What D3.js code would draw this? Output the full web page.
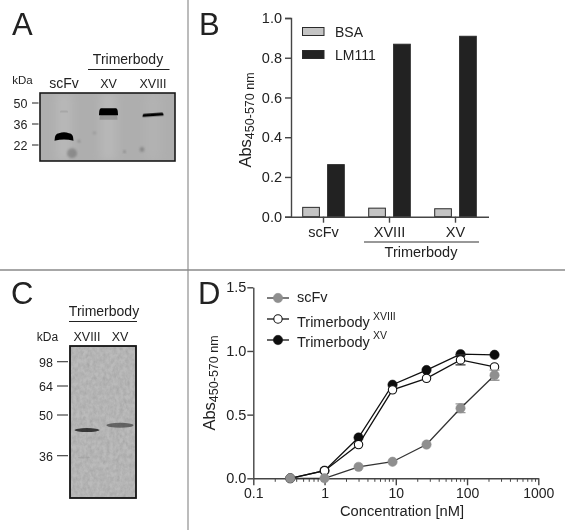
<!DOCTYPE html>
<html><head><meta charset="utf-8">
<script src="https://cdn.jsdelivr.net/npm/d3@7"></script>
<style>
html,body{margin:0;padding:0;background:#fff}
svg{display:block}
text{font-family:"Liberation Sans",Arial,sans-serif;fill:#222}
</style></head><body><svg id="c" width="565" height="530"></svg>
<script>
// Panel B
const barGroups = ["scFv","XVIII","XV"];
const barSeries = ["BSA","LM111"];
const bsaValues = [0.047,0.043,0.040];
const lm111Values = [0.262,0.868,0.908];
const barColors = ["#c4c4c4","#222222"];
const barYTicks = [0,0.2,0.4,0.6,0.8,1.0];
// Panel D
const concentrations = [0.33,1,3,9,27,81,243];
const scFvCurve = [0,0,0.09,0.13,0.265,0.55,0.81];
const scFvError = [0,0,0,0,0,0.035,0.04];
const xviiiCurve = [0,0.06,0.265,0.695,0.785,0.93,0.875];
const xviiiError = [0,0,0,0,0,0.04,0];
const xvCurve = [0,0.06,0.32,0.735,0.85,0.975,0.97];
const xvError = [0,0,0,0,0,0,0];
const lineYTicks = [0,0.5,1.0,1.5];
const lineXTicks = [0.1,1,10,100,1000];
// Panel A blot
const blotALanes = ["scFv","XV","XVIII"];
const blotAMarkers = [50,36,22];
const blotABands = [
  {lane:"XV",kda:40.5,w:18,h:5,arc:0,o:0.16},
  {lane:"scFv",kda:27.2,w:19,h:7,arc:2.5,o:1},
  {lane:"XV",kda:44.2,w:19,h:7,arc:0,o:1},
  {lane:"XVIII",kda:42.2,w:21,h:3,arc:0,o:1,tilt:-4},
  {lane:"scFv",kda:44.4,w:8,h:2,arc:0,o:0.08}
];
const blotASpots = [
  {lane:"scFv",dx:8,kda:16.5,r:5,o:0.3},
  {lane:"XVIII",dx:-11,kda:19,r:2.4,o:0.3},
  {lane:"XV",dx:16,kda:17.5,r:1.1,o:0.5},
  {lane:"scFv",dx:15,kda:24.5,r:1.3,o:0.3},
  {lane:"XV",dx:-14,kda:30,r:1.4,o:0.2}
];
// Panel C blot
const blotCLanes = ["XVIII","XV"];
const blotCMarkers = [98,64,50,36];
const blotCBands = [
  {lane:"XVIII",dx:0,kda:44.8,w:25,h:4,o:0.85},
  {lane:"XV",dx:0,kda:46.5,w:27,h:5,o:0.55},
  {lane:"XVIII",dx:-3,kda:35.4,w:12,h:2,o:0.08}
];

const root = d3.select("#c");
const defs = root.append("defs");
const blur = (id,s)=>defs.append("filter").attr("id",id).attr("x","-50%").attr("y","-50%").attr("width","200%").attr("height","200%")
  .append("feGaussianBlur").attr("stdDeviation",s);
blur("b1",1); blur("b06",0.7); blur("b5",5);
defs.append("filter").attr("id","soft").attr("filterUnits","userSpaceOnUse").attr("x",0).attr("y",0).attr("width",565).attr("height",530)
  .append("feGaussianBlur").attr("stdDeviation",0.35);
const nf = defs.append("filter").attr("id","noise").attr("x","0").attr("y","0").attr("width","100%").attr("height","100%");
nf.append("feTurbulence").attr("type","fractalNoise").attr("baseFrequency","0.3 0.22").attr("numOctaves",3).attr("seed",4);
nf.append("feColorMatrix").attr("type","matrix").attr("values","0 0 0 0 0.30  0 0 0 0 0.30  0 0 0 0 0.30  0.6 0.6 0 0 -0.42");
defs.append("clipPath").attr("id","clipA").append("rect").attr("x",40).attr("y",93).attr("width",135).attr("height",68);
defs.append("clipPath").attr("id","clipC").append("rect").attr("x",70).attr("y",346).attr("width",66).attr("height",152);

const svg = root.append("g").attr("filter","url(#soft)");
svg.append("rect").attr("width",565).attr("height",530).attr("fill","#fff");

const txt=(g,x,y,s,size,anchor="middle")=>g.append("text").attr("x",x).attr("y",y).attr("font-size",size).attr("text-anchor",anchor).text(s);

// dividers
svg.append("line").attr("x1",188).attr("x2",188).attr("y1",0).attr("y2",530).attr("stroke","#bcbcbc").attr("stroke-width",2);
svg.append("line").attr("x1",0).attr("x2",565).attr("y1",270).attr("y2",270).attr("stroke","#8a8a8a").attr("stroke-width",1.4);

// letters
[["A",12,35],["B",199,35],["C",11,304],["D",198,304]].forEach(d=>txt(svg,d[1],d[2],d[0],31,"start").attr("fill","#111"));

// ---------- Panel A
const gA = svg.append("g");
const xA = d3.scalePoint().domain(blotALanes).range([64,153]);
const yA = d3.scaleLinear().domain([50,22]).range([103,145]);
txt(gA,128,64,"Trimerbody",14);
gA.append("line").attr("x1",88).attr("x2",169.5).attr("y1",69.5).attr("y2",69.5).attr("stroke","#222").attr("stroke-width",1.2);
txt(gA,22.5,84,"kDa",11.5);
blotALanes.forEach(l=>txt(gA,xA(l),88,l,l==="scFv"?14:12.5));
const pA = gA.append("g").attr("clip-path","url(#clipA)");
pA.append("rect").attr("x",40).attr("y",93).attr("width",135).attr("height",68).attr("fill","#aeaeae");
pA.selectAll(".smear").data(blotALanes).join("rect").attr("x",d=>xA(d)-8).attr("y",93).attr("width",16).attr("height",68)
  .attr("fill","#cdcdcd").attr("opacity",d=>d==="XVIII"?0.15:0.32).attr("filter","url(#b5)");
pA.selectAll(".spot").data(blotASpots).join("circle").attr("cx",d=>xA(d.lane)+d.dx).attr("cy",d=>yA(d.kda)).attr("r",d=>d.r)
  .attr("fill","#333").attr("opacity",d=>d.o).attr("filter","url(#b1)");
pA.selectAll(".band").data(blotABands).join("path")
  .attr("d",d=>{const x=xA(d.lane),y=yA(d.kda),w=d.w/2,h=d.h/2,a=d.arc,r=Math.min(h,2);
    return `M${x-w},${y+h} Q${x-w},${y-h-a*0.2} ${x-w+r+a},${y-h-a*0.2} Q${x},${y-h-a} ${x+w-r-a},${y-h-a*0.2} Q${x+w},${y-h-a*0.2} ${x+w},${y+h} Q${x},${y+h-a} ${x-w},${y+h}Z`;})
  .attr("transform",d=>d.tilt?`rotate(${d.tilt} ${xA(d.lane)} ${yA(d.kda)})`:null)
  .attr("fill","#050505").attr("opacity",d=>d.o).attr("filter","url(#b06)");
gA.append("rect").attr("x",40).attr("y",93).attr("width",135).attr("height",68).attr("fill","none").attr("stroke","#1a1a1a").attr("stroke-width",1.6);
blotAMarkers.forEach(k=>{
  txt(gA,27.5,yA(k)+5,k,12.5,"end");
  gA.append("line").attr("x1",32).attr("x2",38.5).attr("y1",yA(k)).attr("y2",yA(k)).attr("stroke","#333").attr("stroke-width",1.1);
});

// ---------- Panel C
const gC = svg.append("g");
const xC = d3.scalePoint().domain(blotCLanes).range([87,120]);
const yC = d3.scaleLinear().domain(blotCMarkers).range([361.7,386,415,455.7]);
txt(gC,104,316,"Trimerbody",14);
gC.append("line").attr("x1",69).attr("x2",137).attr("y1",321.5).attr("y2",321.5).attr("stroke","#222").attr("stroke-width",1.2);
txt(gC,47.5,341,"kDa",12);
blotCLanes.forEach(l=>txt(gC,xC(l),341,l,12.5));
const pC = gC.append("g").attr("clip-path","url(#clipC)");
pC.append("rect").attr("x",70).attr("y",346).attr("width",66).attr("height",152).attr("fill","#bbbbbb");
pC.append("rect").attr("x",70).attr("y",346).attr("width",66).attr("height",152).attr("filter","url(#noise)");
pC.selectAll(".band").data(blotCBands).join("ellipse")
  .attr("cx",d=>xC(d.lane)+d.dx).attr("cy",d=>yC(d.kda)).attr("rx",d=>d.w/2).attr("ry",d=>d.h/2)
  .attr("fill","#222").attr("opacity",d=>d.o).attr("filter","url(#b06)");
gC.append("rect").attr("x",70).attr("y",346).attr("width",66).attr("height",152).attr("fill","none").attr("stroke","#151515").attr("stroke-width",1.8);
blotCMarkers.forEach(k=>{
  txt(gC,53,yC(k)+5,k,12.5,"end");
  gC.append("line").attr("x1",57).attr("x2",68).attr("y1",yC(k)).attr("y2",yC(k)).attr("stroke","#333").attr("stroke-width",1.1);
});

// helpers for axes
const styleAxis = (g,size)=>{
  g.selectAll("path,line").attr("stroke","#444").attr("stroke-width",1.4);
  g.selectAll("text").attr("font-size",size).attr("fill","#222");
};
const absLabel=(x,y,main,sub)=>{
  const t=svg.append("text").attr("transform",`translate(${x},${y}) rotate(-90)`).attr("text-anchor","middle");
  t.append("tspan").attr("font-size",main).text("Abs");
  t.append("tspan").attr("font-size",sub).attr("dy",3).text("450-570 nm");
};

// ---------- Panel B
const yB = d3.scaleLinear().domain([0,1]).range([216.7,18]);
const xB = d3.scaleBand().domain(barGroups).range([290.5,488.5]);
const xB2 = d3.scaleBand().domain(barSeries).range([xB.bandwidth()/2-20.8,xB.bandwidth()/2+20.8]).paddingInner(0.33);
const gB = svg.append("g");
[bsaValues,lm111Values].forEach((vals,si)=>{
  gB.selectAll(".s"+si).data(vals).join("rect")
    .attr("x",(d,i)=>xB(barGroups[i])+xB2(barSeries[si]))
    .attr("y",d=>yB(d)).attr("width",xB2.bandwidth()).attr("height",d=>yB(0)-yB(d))
    .attr("fill",barColors[si]).attr("stroke","#2a2a2a").attr("stroke-width",1);
});
const axLB = svg.append("g").attr("transform","translate(291,0)").call(d3.axisLeft(yB).tickValues(barYTicks).tickFormat(d3.format(".1f")).tickSizeOuter(0).tickSize(6).tickPadding(3));
styleAxis(axLB,14.5);
const axBB = svg.append("g").attr("transform","translate(0,216.7)").call(d3.axisBottom(xB).tickSize(6).tickSizeOuter(0).tickPadding(4));
styleAxis(axBB,14.5);
absLabel(250.5,120,16.5,12.5);
svg.append("line").attr("x1",364).attr("x2",479).attr("y1",242).attr("y2",242).attr("stroke","#333").attr("stroke-width",1.2);
txt(svg,421,257,"Trimerbody",14.5);
barSeries.forEach((s,i)=>{
  const yy=[27.5,50.5][i];
  svg.append("rect").attr("x",302.5).attr("y",yy).attr("width",21.5).attr("height",8).attr("fill",barColors[i]).attr("stroke","#2a2a2a").attr("stroke-width",1);
  txt(svg,335,yy+9,s,14,"start");
});

// ---------- Panel D
const xD = d3.scaleLog().domain([0.1,1000]).range([253.3,538.3]);
const yD = d3.scaleLinear().domain([0,1.5]).range([478.3,287.3]);
const minor=[];
lineXTicks.slice(0,-1).forEach(b=>d3.range(2,10).forEach(m=>minor.push(b*m)));
const axMinor = svg.append("g").attr("transform","translate(0,478.3)").call(d3.axisBottom(xD).tickValues(minor).tickSize(3.5).tickFormat(""));
axMinor.selectAll("line").attr("stroke","#444").attr("stroke-width",1);
axMinor.select("path").remove();
const axXD = svg.append("g").attr("transform","translate(0,478.3)").call(d3.axisBottom(xD).tickValues(lineXTicks).tickFormat(d=>String(d)).tickSize(7).tickSizeOuter(0).tickPadding(3));
styleAxis(axXD,14);
const axYD = svg.append("g").attr("transform","translate(253.3,0)").call(d3.axisLeft(yD).tickValues(lineYTicks).tickFormat(d3.format(".1f")).tickSize(6).tickSizeOuter(0).tickPadding(1));
styleAxis(axYD,14.5);
absLabel(215,383,16.5,12.5);
txt(svg,402,516,"Concentration [nM]",14.7);
const seriesD=[
 {name:"Trimerbody",sup:"XV",vals:xvCurve,err:xvError,stroke:"#111",fill:"#111",ly:340,ty:347,sy:339},
 {name:"Trimerbody",sup:"XVIII",vals:xviiiCurve,err:xviiiError,stroke:"#111",fill:"#fff",ly:319,ty:327,sy:320},
 {name:"scFv",sup:null,vals:scFvCurve,err:scFvError,stroke:"#8f8f8f",fill:"#8f8f8f",ly:298,ty:302}
];
const line=d3.line().x((d,i)=>xD(concentrations[i])).y(d=>yD(d));
seriesD.forEach(s=>{
  const g=svg.append("g");
  const lineColor=s.name==="scFv"?"#333":"#111";
  s.vals.forEach((v,i)=>{ if(!s.err[i])return;
    const x=xD(concentrations[i]),c=s.name==="scFv"?"#9a9a9a":"#333";
    g.append("path").attr("d",`M${x},${yD(v-s.err[i])}V${yD(v+s.err[i])}M${x-5},${yD(v-s.err[i])}h10M${x-5},${yD(v+s.err[i])}h10`).attr("fill","none").attr("stroke",c).attr("stroke-width",1.3);
  });
  g.append("path").attr("d",line(s.vals)).attr("fill","none").attr("stroke",lineColor).attr("stroke-width",1.3);
  g.selectAll("circle").data(s.vals).join("circle").attr("cx",(d,i)=>xD(concentrations[i])).attr("cy",d=>yD(d)).attr("r",s.fill==="#fff"?4.2:4.7)
    .attr("fill",s.fill).attr("stroke",s.stroke).attr("stroke-width",s.fill==="#fff"?1.1:0.5);
  svg.append("line").attr("x1",267).attr("x2",289).attr("y1",s.ly).attr("y2",s.ly).attr("stroke",lineColor).attr("stroke-width",1.3);
  svg.append("circle").attr("cx",278).attr("cy",s.ly).attr("r",s.fill==="#fff"?4.2:4.7).attr("fill",s.fill).attr("stroke",s.stroke).attr("stroke-width",s.fill==="#fff"?1.1:0.5);
  txt(svg,297,s.ty,s.name,14.5,"start");
  if(s.sup) txt(svg,373,s.sy,s.sup,10.5,"start");
});
</script></body></html>
